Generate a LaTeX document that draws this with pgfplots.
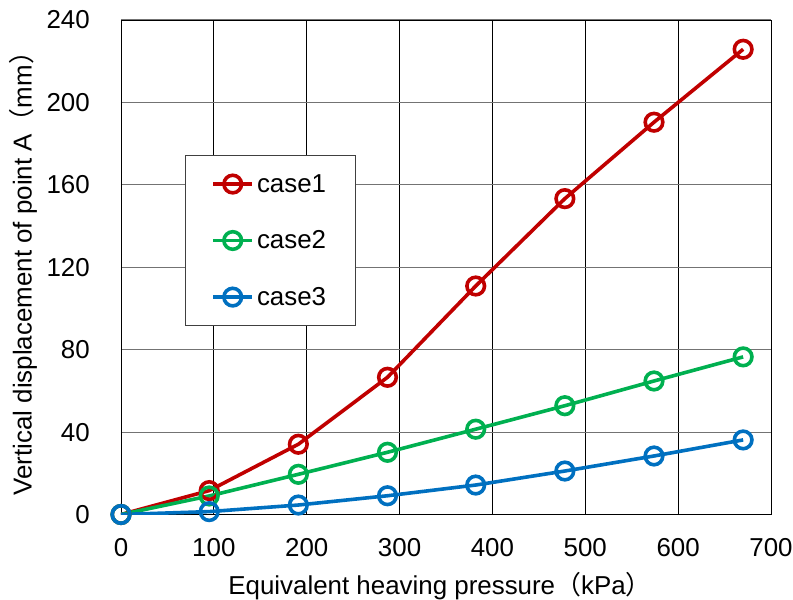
\documentclass[border=0pt]{standalone}
\usepackage{pgfplots}
\pgfplotsset{compat=1.18}
\usepackage{fontspec}
\setmainfont{Liberation Sans}
\newfontfamily\cjk{Noto Sans CJK SC}
\definecolor{c1}{HTML}{C00000}
\definecolor{c2}{HTML}{00B050}
\definecolor{c3}{HTML}{0070C0}
\begin{document}
\begin{tikzpicture}
\useasboundingbox (-121bp,-85.5bp) rectangle (672bp,514.5bp);
\begin{axis}[
  at={(0,0)}, anchor=south west,
  scale only axis, width=650bp, height=494.5bp,
  xmin=0, xmax=700, ymin=0, ymax=240,
  xtick={0,100,...,700}, ytick={0,40,...,240},
  major tick length=0pt,
  /pgf/number format/assume math mode=true,
  font=\fontsize{26}{30}\selectfont,
  tick label style={font=\fontsize{26}{30}\selectfont},
  xticklabel style={anchor=north, inner sep=0pt, yshift=-23.5bp},
  yticklabel style={anchor=east, inner sep=0pt, xshift=-31bp},
  grid=major,
  x grid style={black, line width=0.9bp},
  y grid style={black!55, line width=1.1bp},
  axis line style={black, line width=0.9bp},
  xlabel={Equivalent heaving pressure{\cjk （}kPa{\cjk ）}},
  ylabel={Vertical displacement of point A{\cjk （}mm{\cjk ）}},
  xlabel style={at={(axis description cs:0.5,0)}, anchor=north, inner sep=0pt, yshift=-58bp, xshift=-6bp},
  ylabel style={at={(axis description cs:-0.172,0.5)}, anchor=north, inner sep=0pt},
  legend style={at={(axis description cs:0.0985,0.727)}, anchor=north west,
    draw=black!75, line width=0.8bp, fill=white,
    inner xsep=26bp, inner ysep=16bp, row sep=31bp,
    nodes={inner sep=3bp, anchor=west},
    font=\fontsize{26}{30}\selectfont},
  legend cell align=left,
  legend image code/.code={\draw[mark repeat=2,mark phase=2] plot coordinates {(0bp,0bp) (19.5bp,0bp) (39bp,0bp)};},
  every axis plot/.append style={line width=3.6bp, mark=o, mark size=8.8bp, mark options={fill=white, solid}},
]
\addplot[c1] coordinates {(0,0) (95,11.6) (191,34.1) (287,66.6) (382,110.9) (478,153.3) (574,190.4) (670,225.8)};
\addlegendentry{case1}
\addplot[c2] coordinates {(0,0) (95,9.0) (191,19.5) (287,30.2) (382,41.4) (478,52.8) (574,64.8) (670,76.5)};
\addlegendentry{case2}
\addplot[c3] coordinates {(0,0) (95,1.4) (191,4.6) (287,9.1) (382,14.3) (478,21.1) (574,28.4) (670,36.2)};
\addlegendentry{case3}
\end{axis}
\end{tikzpicture}
\end{document}
